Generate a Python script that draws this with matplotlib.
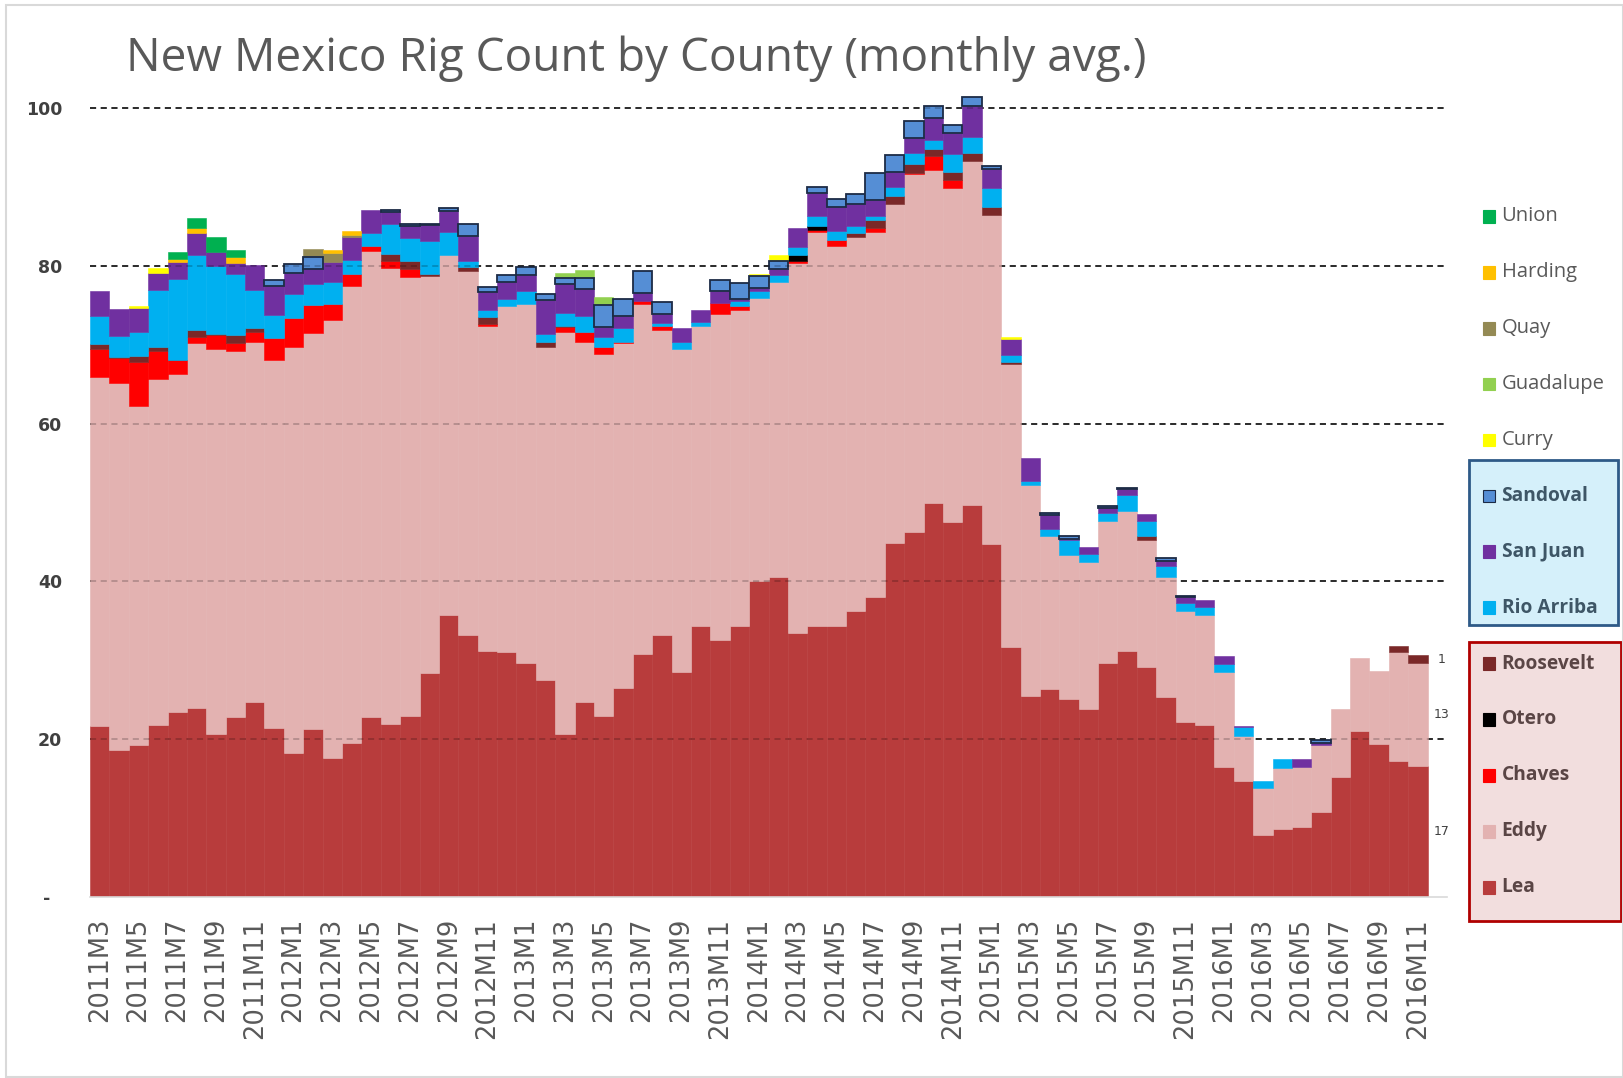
import numpy as np
import matplotlib
matplotlib.use("Agg")
import matplotlib.pyplot as plt
from matplotlib.patches import Rectangle

# ---------------- data ----------------
months = [f"{y}M{m}" for y in range(2011, 2017) for m in range(1, 13)][2:-1]  # 2011M3 .. 2016M11

lea = [21.7, 18.65, 19.3, 21.8, 23.4, 24.0, 20.6, 22.8, 24.7, 21.4,
       18.2, 21.3, 17.6, 19.5, 22.8, 21.9, 23.0, 28.4, 35.7, 33.2, 31.2, 31.0,
       29.7, 27.5, 20.6, 24.7, 23.0, 26.5, 30.8, 33.2, 28.5, 34.4, 32.6, 34.3,
       40.0, 40.5, 33.5, 34.3, 34.35, 36.2, 38.0, 44.9, 46.2, 50.0, 47.5, 49.7,
       44.7, 31.7, 25.5, 26.3, 25.1, 23.8, 29.6, 31.2, 29.2, 25.4, 22.2, 21.8,
       16.5, 14.7, 7.8, 8.65, 8.9, 10.8, 15.2, 21.1, 19.4, 17.3, 16.6]
eddy = [44.2, 46.45, 42.9, 43.9, 42.9, 46.2, 48.9, 46.4, 45.7, 46.7,
        51.5, 50.2, 55.5, 57.9, 59.1, 57.8, 55.6, 50.3, 45.7, 46.2, 41.2, 43.9,
        45.4, 42.2, 51.0, 45.7, 45.8, 43.7, 44.3, 38.7, 40.9, 38.0, 41.3, 40.1,
        35.9, 37.4, 46.8, 50.0, 48.15, 47.4, 46.3, 42.9, 45.4, 42.2, 42.4, 43.6,
        41.8, 35.9, 26.7, 19.4, 18.3, 18.7, 18.0, 17.7, 16.1, 15.2, 14.0, 14.0,
        12.0, 5.75, 6.0, 7.75, 7.6, 8.5, 8.6, 9.2, 9.25, 13.7, 13.05]
chaves = [3.5, 3.2, 5.65, 3.5, 1.7, 0.75, 1.7, 1.0, 1.2, 2.8,
          3.7, 3.5, 2.0, 1.5, 0.65, 0.95, 1.05, 0, 0, 0, 0.2, 0,
          0, 0, 0.7, 1.2, 0.9, 0.1, 0.5, 0.5, 0, 0, 1.35, 0.5,
          0, 0, 0.25, 0.25, 0.8, 0, 0.55, 0, 0.2, 1.7, 0.95, 0,
          0, 0, 0, 0, 0, 0, 0, 0, 0, 0, 0, 0,
          0, 0, 0, 0, 0, 0, 0, 0, 0, 0, 0]
otero = [0, 0, 0, 0, 0, 0, 0, 0, 0, 0,
         0, 0, 0, 0, 0, 0, 0, 0, 0, 0, 0, 0,
         0, 0, 0, 0, 0, 0, 0, 0, 0, 0, 0, 0,
         0, 0, 0.85, 0.5, 0, 0, 0, 0, 0, 0, 0, 0,
         0, 0, 0, 0, 0, 0, 0, 0, 0, 0, 0, 0,
         0, 0, 0, 0, 0, 0, 0, 0, 0, 0, 0]
roosevelt = [0.7, 0.15, 0.75, 0.5, 0.1, 0.95, 0.1, 1.0, 0.5, 0,
             0, 0, 0, 0, 0, 0.85, 0.95, 0.3, 0, 0.4, 0.9, 0,
             0, 0.7, 0.1, 0, 0, 0, 0, 0, 0, 0, 0, 0,
             0, 0, 0, 0, 0, 0.5, 0.95, 1.05, 1.05, 0.95, 1.0, 1.0,
             0.95, 0.15, 0, 0, 0, 0, 0, 0, 0.4, 0, 0, 0,
             0, 0, 0, 0, 0, 0, 0, 0, 0, 0.75, 1.0]
rio_arriba = [3.5, 2.65, 2.95, 7.2, 10.2, 9.5, 8.7, 7.7, 4.8, 2.9,
              3.0, 2.65, 2.85, 1.8, 1.55, 3.8, 2.95, 4.15, 2.9, 0.85, 0.85, 0.95,
              1.75, 1.0, 1.6, 2.0, 1.3, 1.8, 0, 0.4, 0.9, 0.5, 0, 0.7,
              0.9, 0.95, 0.95, 1.25, 1.1, 1.0, 0.5, 1.15, 1.45, 1.1, 2.35, 2.0,
              2.45, 1.0, 0.5, 0.95, 1.8, 0.95, 1.1, 2.0, 2.0, 1.35, 1.1, 1.0,
              1.0, 1.1, 0.9, 1.05, 0, 0, 0, 0, 0, 0, 0]
san_juan = [3.25, 3.4, 3.05, 2.2, 2.15, 2.7, 1.7, 1.45, 3.25, 3.65,
            2.7, 2.0, 2.55, 2.95, 2.95, 1.5, 1.5, 2.0, 2.65, 3.15, 2.3, 2.05,
            2.0, 4.3, 3.7, 3.4, 1.25, 1.5, 0.95, 1.05, 1.8, 1.55, 1.6, 0.2,
            0.4, 0.75, 2.5, 2.95, 3.1, 2.7, 2.0, 1.95, 1.95, 2.75, 2.65, 3.95,
            2.4, 2.0, 3.0, 1.75, 0.15, 0.95, 0.6, 0.75, 0.9, 0.6, 0.7, 0.9,
            1.0, 0.15, 0, 0, 1.0, 0.2, 0, 0, 0, 0, 0]
sandoval = [0, 0, 0, 0, 0, 0, 0, 0, 0, 0.7,
            1.1, 1.5, 0, 0, 0, 0.3, 0.3, 0.2, 0.4, 1.5, 0.65, 0.95,
            1.05, 0.75, 0.75, 1.4, 2.8, 2.2, 2.8, 1.5, 0, 0, 1.4, 2.0,
            1.5, 0.95, 0, 0.8, 0.95, 1.3, 3.5, 2.1, 2.1, 1.6, 1.05, 1.15,
            0.4, 0, 0, 0.3, 0.35, 0, 0.3, 0.25, 0, 0.4, 0.2, 0,
            0, 0, 0, 0, 0, 0.45, 0, 0, 0, 0, 0]
curry = [0, 0, 0.25, 0.65, 0, 0, 0, 0, 0, 0,
         0, 0, 0, 0, 0, 0, 0, 0, 0, 0, 0, 0,
         0, 0, 0, 0, 0, 0, 0, 0, 0, 0, 0, 0,
         0.25, 0.85, 0, 0, 0, 0, 0, 0, 0, 0, 0, 0,
         0, 0.25, 0, 0, 0, 0, 0, 0, 0, 0, 0, 0,
         0, 0, 0, 0, 0, 0, 0, 0, 0, 0, 0]
guadalupe = [0, 0, 0, 0, 0, 0, 0, 0, 0, 0,
             0, 0, 0, 0, 0, 0, 0, 0, 0, 0, 0, 0,
             0, 0, 0.65, 1.05, 1.05, 0, 0, 0, 0, 0, 0, 0,
             0, 0, 0, 0, 0, 0, 0, 0, 0, 0, 0, 0,
             0, 0, 0, 0, 0, 0, 0, 0, 0, 0, 0, 0,
             0, 0, 0, 0, 0, 0, 0, 0, 0, 0, 0]
quay = [0, 0, 0, 0, 0, 0, 0, 0, 0, 0,
        0, 0.95, 1.15, 0.2, 0, 0, 0, 0, 0, 0, 0, 0,
        0, 0, 0, 0, 0, 0, 0, 0, 0, 0, 0, 0,
        0, 0, 0, 0, 0, 0, 0, 0, 0, 0, 0, 0,
        0, 0, 0, 0, 0, 0, 0, 0, 0, 0, 0, 0,
        0, 0, 0, 0, 0, 0, 0, 0, 0, 0, 0]
harding = [0, 0, 0, 0, 0.4, 0.75, 0, 0.75, 0, 0,
           0, 0, 0.35, 0.5, 0, 0, 0, 0, 0, 0, 0, 0,
           0, 0, 0, 0, 0, 0, 0, 0, 0, 0, 0, 0,
           0, 0, 0, 0, 0, 0, 0, 0, 0, 0, 0, 0,
           0, 0, 0, 0, 0, 0, 0, 0, 0, 0, 0, 0,
           0, 0, 0, 0, 0, 0, 0, 0, 0, 0, 0]
union = [0, 0, 0, 0, 0.9, 1.2, 1.9, 0.95, 0, 0,
         0, 0, 0, 0, 0, 0, 0, 0, 0, 0, 0, 0,
         0, 0, 0, 0, 0, 0, 0, 0, 0, 0, 0, 0,
         0, 0, 0, 0, 0, 0, 0, 0, 0, 0, 0, 0,
         0, 0, 0, 0, 0, 0, 0, 0, 0, 0, 0, 0,
         0, 0, 0, 0, 0, 0, 0, 0, 0, 0, 0]

# stacking order bottom -> top
series_names = ["Lea", "Eddy", "Chaves", "Otero", "Roosevelt", "Rio Arriba",
                "San Juan", "Sandoval", "Curry", "Guadalupe", "Quay", "Harding", "Union"]
series_vals = [lea, eddy, chaves, otero, roosevelt, rio_arriba, san_juan,
               sandoval, curry, guadalupe, quay, harding, union]
series_colors = ["#B83C3C", "#E3B2B1", "#FF0000", "#000000", "#7A2828", "#00B0F0",
                 "#7030A0", "#558ED5", "#FFFF00", "#92D050", "#948A54", "#FFC000", "#00B050"]
last_labels = ["17", "13", "1"]  # Lea, Eddy, Roosevelt (last month)

# ---------------- figure ----------------
WPX, HPX = 1623, 1078
fig = plt.figure(figsize=(WPX / 100, HPX / 100), dpi=100)

def fx(x):
    return x / WPX

def fy(y):
    return 1 - y / HPX

x0_px, x1_px = 90, 1447
y0_px = 897
ytop = 104.0
px_per_unit = 7.89
ytop_px = y0_px - ytop * px_per_unit
ax = fig.add_axes([fx(x0_px), fy(y0_px), (x1_px - x0_px) / WPX, (y0_px - ytop_px) / HPX])

n = len(months)
x = np.arange(n)
bottom = np.zeros(n)
for name, vals, col in zip(series_names, series_vals, series_colors):
    v = np.asarray(vals, dtype=float)
    m = v > 0
    if name == "Sandoval":
        ax.bar(x[m], v[m], bottom=bottom[m], width=1.0, color=col,
               edgecolor="#1C2B45", linewidth=1.3, zorder=3)
    else:
        ax.bar(x[m], v[m], bottom=bottom[m], width=1.0, color=col,
               edgecolor=col, linewidth=0.4, zorder=2)
    bottom += v

ax.set_xlim(-0.5, n + 0.5)
ax.set_ylim(0, ytop)

# gridlines: black behind, faint overlay on top of bars
for yv in [20, 40, 60, 80, 100]:
    ax.axhline(yv, color="black", lw=1.1, ls=(0, (4, 3)), zorder=1)
    ax.axhline(yv, color="black", lw=1.1, ls=(0, (4, 3)), alpha=0.25, zorder=4)

# y ticks
ax.set_yticks([0, 20, 40, 60, 80, 100])
ax.set_yticklabels(["-  ", "20", "40", "60", "80", "100"], fontsize=12.5,
                   fontweight="bold", color="#404040", family="DejaVu Sans")
ax.tick_params(axis="y", length=0, pad=20)

# x ticks
ax.set_xticks(x[::2])
ax.set_xticklabels(months[::2], rotation=90, fontsize=18.5, color="#595959",
                   family="DejaVu Sans")
ax.tick_params(axis="x", length=0, pad=15)

for s in ["top", "right", "left"]:
    ax.spines[s].set_visible(False)
ax.spines["bottom"].set_color("#D9D9D9")
ax.spines["bottom"].set_linewidth(1.2)

# data labels for the last month
lea_a, eddy_a, roos_a = np.array(lea), np.array(eddy), np.array(roosevelt)
mids = [lea_a[-1] / 2, lea_a[-1] + eddy_a[-1] / 2,
        lea_a[-1] + eddy_a[-1] + np.array(chaves)[-1] + np.array(otero)[-1] + roos_a[-1] / 2]
for lab, yv in zip(last_labels, mids):
    ax.text(n + 0.2, yv, lab, fontsize=9, color="#404040", ha="center", va="center")

# ---------------- title ----------------
title = fig.text(fx(126), fy(71), "New Mexico Rig Count by County (monthly avg.)",
                 fontsize=30, family="Open Sans", color="#595959", ha="left", va="baseline")
fig.canvas.draw()
bb = title.get_window_extent()
title.set_fontsize(30 * 1021 / bb.width)

# ---------------- legend (drawn by hand) ----------------
fig.patches.append(Rectangle((fx(1469), fy(625)), (1618 - 1469) / WPX, (625 - 460) / HPX,
                             transform=fig.transFigure, facecolor="#D5F0FA",
                             edgecolor="#2E5A87", linewidth=2, zorder=0))
fig.patches.append(Rectangle((fx(1469), fy(921)), (1621 - 1469) / WPX, (921 - 642) / HPX,
                             transform=fig.transFigure, facecolor="#F2DEDE",
                             edgecolor="#B00000", linewidth=2, zorder=0))

legend_order = series_names[::-1]
legend_cols = series_colors[::-1]
for k, (name, col) in enumerate(zip(legend_order, legend_cols)):
    yc = 216.4 + k * 55.9
    sq = 12.7
    ec = "#1C2B45" if name == "Sandoval" else col
    fig.patches.append(Rectangle((fx(1482.7), fy(yc + sq / 2)), sq / WPX, sq / HPX,
                                 transform=fig.transFigure, facecolor=col,
                                 edgecolor=ec, linewidth=0.8, zorder=2))
    if k < 5:
        weight, tcol, fs = "normal", "#595959", 14.5
    elif k < 8:
        weight, tcol, fs = "bold", "#3E5666", 13.8
    else:
        weight, tcol, fs = "bold", "#5A4545", 13.8
    fig.text(fx(1501.5), fy(yc), name, fontsize=fs, family="Open Sans",
             fontweight=weight, color=tcol, ha="left", va="center")

# chart-area border
fig.patches.append(Rectangle((fx(6), fy(1077)), (WPX - 6) / WPX, (1077 - 5) / HPX,
                             transform=fig.transFigure, facecolor="none",
                             edgecolor="#D9D9D9", linewidth=1.5, zorder=0))

fig.savefig("out.png", dpi=100)
